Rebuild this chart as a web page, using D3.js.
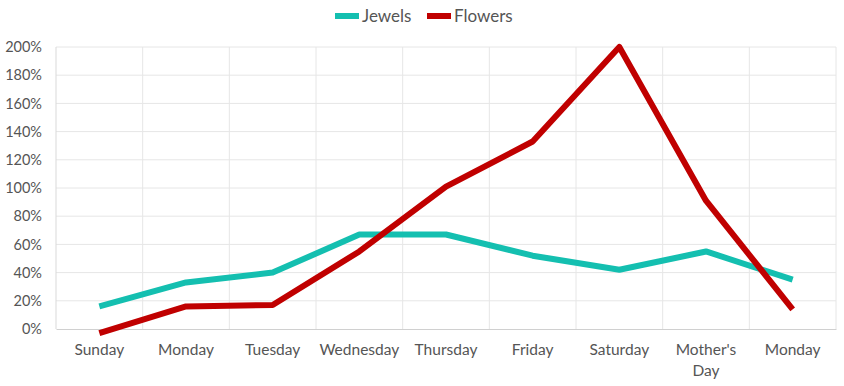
<!DOCTYPE html>
<html lang="en">
<head>
    <meta charset="UTF-8">
    <title>Jewels vs Flowers</title>
    <script src="https://d3js.org/d3.v7.min.js"></script>
    <style>
        body { margin: 0; background: #fff; }
        text { font-family: Lato, "Open Sans", sans-serif; fill: #555555; }
    </style>
</head>
<body>
    <div id="plot"></div>

    <script>
        let days = ['Sunday', 'Monday', 'Tuesday', 'Wednesday', 'Thursday', 'Friday', 'Saturday', "Mother's Day", 'Monday '];
        let jewels = [16, 33, 40, 67, 67, 52, 42, 55, 35];
        let flowers = [-3, 16, 17, 55, 101, 133, 200, 91, 14];
        let yTicks = [0, 20, 40, 60, 80, 100, 120, 140, 160, 180, 200];

        function translate(x, y){
            return 'translate(' + x + ', ' + y + ')';
        }

        let svgWidth = 844, svgHeight = 386;
        let margin = {top: 47, right: 8, bottom: 57, left: 56};
        let width = svgWidth - margin.left - margin.right;
        let height = svgHeight - margin.top - margin.bottom;

        let svg = d3.select('#plot')
            .append('svg')
            .attr('width', svgWidth)
            .attr('height', svgHeight);

        let g = svg.append('g').attr('transform', translate(margin.left, margin.top));

        let x = d3.scaleBand().domain(days).range([0, width]);
        let y = d3.scaleLinear().domain([0, 200]).range([height, 0]);

        // horizontal grid
        g.append('g')
            .selectAll('line')
            .data(yTicks.slice(1))
            .enter()
            .append('line')
            .attr('x1', 0).attr('x2', width)
            .attr('y1', d => y(d)).attr('y2', d => y(d))
            .attr('stroke', '#e6e6e6');

        // vertical grid at category edges
        g.append('g')
            .selectAll('line')
            .data(days.slice(1))
            .enter()
            .append('line')
            .attr('x1', d => x(d)).attr('x2', d => x(d))
            .attr('y1', 0).attr('y2', height)
            .attr('stroke', '#e6e6e6');

        g.append('line')
            .attr('x1', width).attr('x2', width)
            .attr('y1', 0).attr('y2', height)
            .attr('stroke', '#e6e6e6');

        g.append('line')
            .attr('x1', 0).attr('x2', 0)
            .attr('y1', 0).attr('y2', height)
            .attr('stroke', '#d9d9d9');

        // y axis labels
        let yAxis = d3.axisLeft(y).tickValues(yTicks).tickSize(0).tickPadding(14).tickFormat(d => d + '%');
        g.append('g').call(yAxis)
            .call(a => a.select('.domain').remove())
            .selectAll('text')
            .style('font-size', '14.5px')
            .attr('fill', '#555555');

        // x axis
        let xAxis = d3.axisBottom(x).tickSize(0).tickPadding(15);
        let xg = g.append('g').attr('transform', translate(0, height)).call(xAxis);
        xg.select('.domain').attr('stroke', '#d0d0d0');
        xg.selectAll('text')
            .style('font-size', '15.5px')
            .attr('fill', '#555555')
            .each(function(d){
                let t = d3.select(this);
                if (d === "Mother's Day") {
                    t.text(null);
                    t.append('tspan').attr('x', 0).attr('dy', '0.71em').text("Mother's");
                    t.append('tspan').attr('x', 0).attr('dy', '1.35em').text('Day');
                    t.attr('dy', null);
                }
            });

        let line = d3.line()
            .x((d, i) => x(days[i]) + x.bandwidth() / 2)
            .y(d => y(d));

        let series = [
            {name: 'Jewels', values: jewels, color: '#14bfb0'},
            {name: 'Flowers', values: flowers, color: '#c00000'}
        ];

        g.selectAll('.series')
            .data(series)
            .enter()
            .append('path')
            .attr('class', 'series')
            .attr('d', d => line(d.values))
            .attr('fill', 'none')
            .attr('stroke', d => d.color)
            .attr('stroke-width', 6)
            .attr('stroke-linejoin', 'round');

        // legend
        let legend = svg.append('g').attr('transform', translate(335, 16));
        let lx = [0, 92];
        series.forEach(function(s, i){
            legend.append('line')
                .attr('x1', lx[i]).attr('x2', lx[i] + 24)
                .attr('y1', 0).attr('y2', 0)
                .attr('stroke', s.color)
                .attr('stroke-width', 6);
            legend.append('text')
                .attr('x', lx[i] + 27)
                .attr('y', 6)
                .style('font-size', '17px')
                .text(s.name);
        });
    </script>
</body>
</html>
